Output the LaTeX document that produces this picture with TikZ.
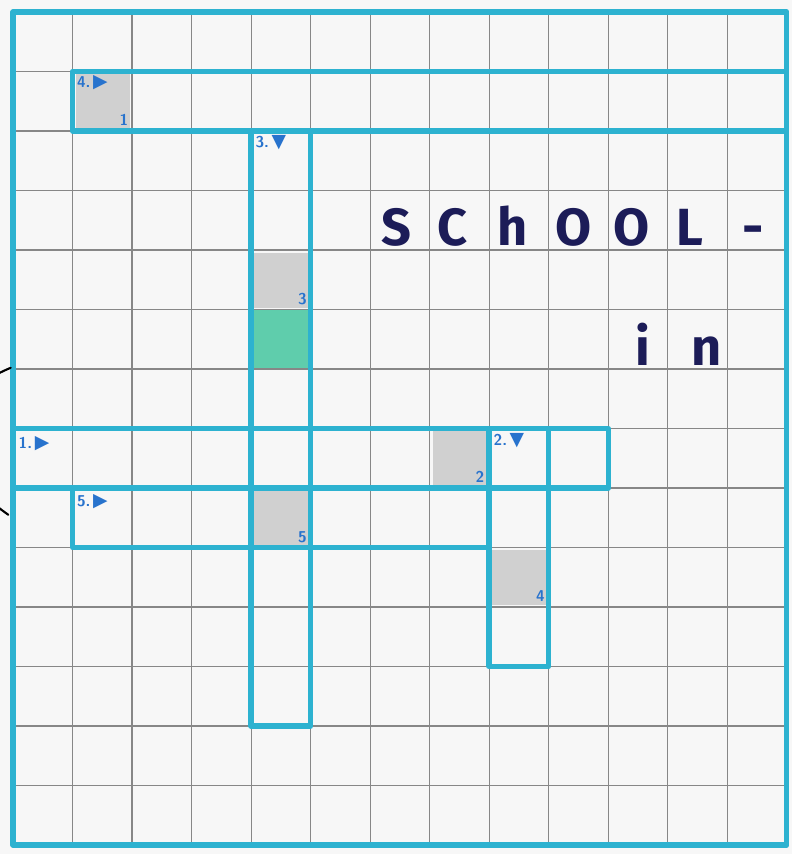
\documentclass[tikz,border=0pt]{standalone}
\usepackage{fontspec}
\newfontfamily\symfont{DejaVu Sans}
\newfontfamily\handfont{Fira Sans}
\definecolor{paper}{RGB}{247,247,247}
\definecolor{wordblue}{RGB}{45,178,208}
\definecolor{gridgray}{RGB}{135,135,135}
\definecolor{shadegray}{RGB}{208,208,208}
\definecolor{greencell}{RGB}{95,205,172}
\definecolor{navyink}{RGB}{28,28,88}
\definecolor{numblue}{RGB}{40,115,205}
\tikzset{
  gridline/.style={draw=gridgray, line width=0.6pt},
  wordbox/.style={draw=wordblue, line width=2.6pt, line join=round},
  shadecell/.style={fill=shadegray},
  greenfill/.style={fill=greencell},
  cluelbl/.style={text=numblue, font=\sffamily\bfseries\fontsize{7.5}{7.5}\selectfont, inner sep=0.5pt, anchor=north west},
  solnum/.style={text=numblue, font=\sffamily\bfseries\fontsize{7.5}{7.5}\selectfont, inner sep=0.8pt, anchor=south east},
  bigletter/.style={text=navyink, font=\handfont\bfseries\fontsize{25}{25}\selectfont, inner sep=0pt, anchor=base},
}
\newcommand{\rtri}{{\symfont\fontsize{9}{9}\selectfont ▶}}
\newcommand{\dtri}{{\symfont\fontsize{9}{9}\selectfont ▼}}
\begin{document}
\begin{tikzpicture}
\useasboundingbox[fill=paper] (-0.22,0.2) rectangle (13.09,-14.15);
% shaded cells
\fill[shadecell] (1.05,-1.05) rectangle (1.97,-1.97);
\fill[shadecell] (4.05,-4.05) rectangle (4.97,-4.97);
\fill[shadecell] (7.05,-7.05) rectangle (7.97,-7.97);
\fill[shadecell] (4.05,-8.05) rectangle (4.97,-8.97);
\fill[shadecell] (8.05,-9.05) rectangle (8.97,-9.97);
\fill[greenfill] (4,-5) rectangle (5,-6);
% grid
\draw[gridline] (0,0) grid (13,-14);
% word boxes
\draw[wordbox] (0,0) rectangle (13,-14);
\draw[wordbox] (1,-1) rectangle (13,-2);
\draw[wordbox] (4,-2) rectangle (5,-12);
\draw[wordbox] (0,-7) rectangle (10,-8);
\draw[wordbox] (1,-8) rectangle (8,-9);
\draw[wordbox] (8,-7) rectangle (9,-11);
% clue labels
\node[cluelbl] (c4) at (1.05,-1.05) {4.\,\rtri};
\node[cluelbl] (c3) at (4.05,-2.05) {3.\,\dtri};
\node[cluelbl] (c1) at (0.07,-7.1) {1.\,\rtri};
\node[cluelbl] (c5) at (1.05,-8.08) {5.\,\rtri};
\node[cluelbl] (c2) at (8.05,-7.05) {2.\,\dtri};
% solution numbers
\node[solnum] (s1) at (1.97,-1.95) {1};
\node[solnum] (s3) at (4.97,-4.95) {3};
\node[solnum] (s2) at (7.95,-7.95) {2};
\node[solnum] (s5) at (4.97,-8.95) {5};
\node[solnum] (s4) at (8.97,-9.95) {4};
% big letters
\node[bigletter] (lS) at (6.45,-3.93) {S};
\node[bigletter] (lC) at (7.39,-3.93) {C};
\node[bigletter] (lh) at (8.40,-3.93) {h};
\node[bigletter] (lO1) at (9.41,-3.93) {O};
\node[bigletter] (lO2) at (10.40,-3.93) {O};
\node[bigletter] (lL) at (11.38,-3.93) {L};
\node[bigletter] (ldash) at (12.44,-3.93) {-};
\node[bigletter] (li) at (10.59,-5.94) {i};
\node[bigletter] (ln) at (11.66,-5.94) {n};
% bracket at left edge (mostly outside the page)
\draw[black, line width=1pt, line cap=round] (-0.04,-5.98) .. controls (-1.3,-6.5) and (-1.3,-7.6) .. (-0.08,-8.45);
\end{tikzpicture}
\end{document}
